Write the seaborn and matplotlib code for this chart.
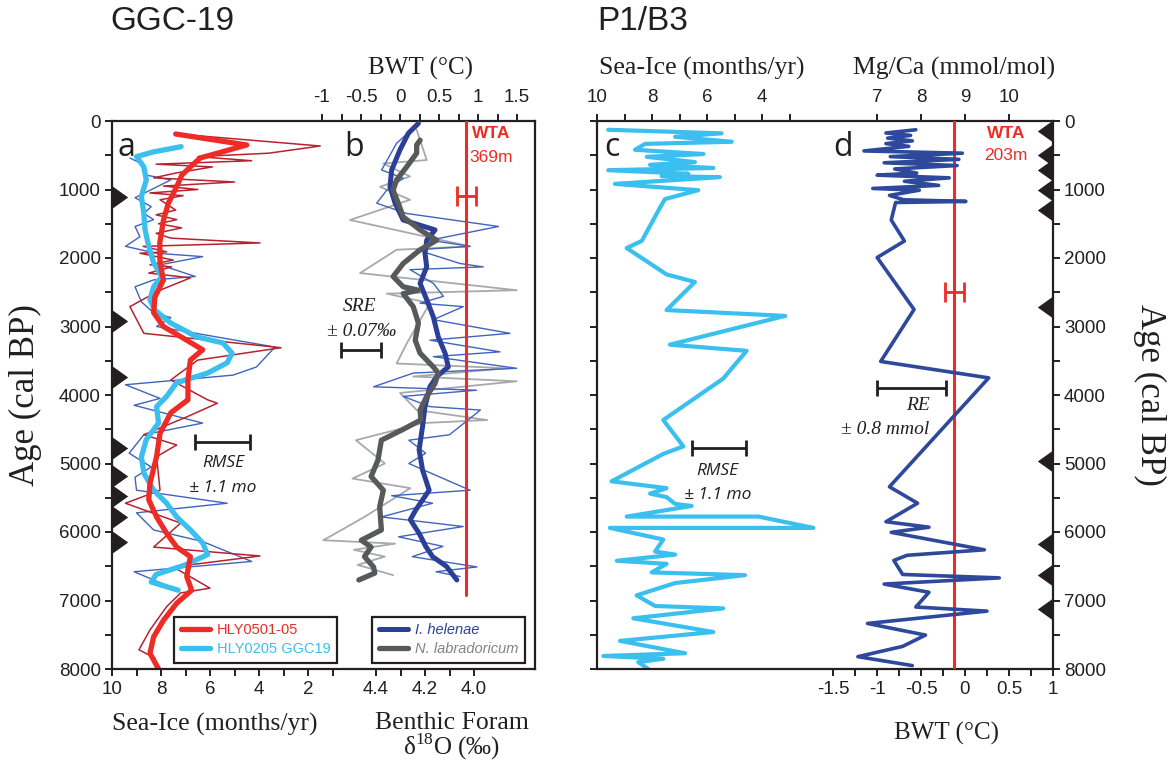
import numpy as np
import pandas as pd
import seaborn as sns
import matplotlib.pyplot as plt
from matplotlib.ticker import FixedLocator

# ---- data (age in cal BP) ----
# panel a: sea-ice (months/yr)
hly05_smooth_age = [190, 350, 540, 670, 790, 960, 1200, 1450, 1780, 2070, 2320, 2570, 2800, 3000, 3200,
                    3340, 3490, 3780, 4070, 4260, 4560, 4900, 5290, 5530, 5780, 6020, 6220, 6360, 6650,
                    6850, 7040, 7290, 7530, 7770, 8000]
hly05_smooth_si = [7.4, 4.5, 6.4, 6.8, 7.15, 7.36, 7.7, 7.9, 8.05, 8.04, 7.9, 8.25, 8.3, 7.9, 6.95,
                   6.3, 6.8, 6.9, 6.9, 7.6, 8.04, 8.18, 8.45, 8.5, 8.18, 7.77, 7.36, 6.8, 6.95,
                   6.75, 7.36, 7.9, 8.3, 8.45, 8.1]
hly05_raw_age = [200, 365, 470, 520, 580, 630, 670, 760, 830, 890, 950, 1000, 1050, 1090, 1150, 1300,
                 1370, 1440, 1500, 1560, 1640, 1710, 1780, 1830, 1910, 1930, 2030, 2100, 2130, 2220,
                 2290, 2470, 2710, 3100, 3310, 3490, 3780, 4070, 4120, 4320, 4580, 4730, 4900, 5390,
                 5580, 5870, 6220, 6350, 6510, 6820, 6890, 7090, 7430, 7720, 7840, 8000]
hly05_raw_si = [7.0, 1.5, 3.6, 6.5, 4.3, 8.2, 5.9, 7.4, 8.3, 5.0, 7.9, 6.5, 8.45, 7.1, 8.04, 7.4,
                8.2, 7.36, 8.1, 7.16, 8.2, 7.6, 3.96, 8.73, 7.77, 8.86, 7.5, 8.45, 7.57, 8.5,
                6.8, 8.04, 9.27, 8.7, 3.1, 6.5, 7.6, 6.1, 5.7, 6.95, 8.7, 7.36, 8.18, 8.04,
                9.45, 7.2, 8.3, 3.96, 7.5, 6.0, 7.2, 7.77, 8.45, 8.9, 8.25, 8.2]
ggc19_smooth_age = [375, 450, 520, 670, 860, 1100, 1350, 1590, 1830, 2070, 2270, 2420, 2610, 2760, 2950,
                    3150, 3240, 3390, 3530, 3680, 3820, 4020, 4170, 4410, 4650, 4900, 5140, 5390, 5580,
                    5780, 5970, 6160, 6330, 6480, 6620, 6730, 6850]
ggc19_smooth_si = [7.18, 8.3, 9.0, 8.7, 8.6, 8.8, 8.7, 8.65, 8.5, 8.3, 7.97, 8.3, 8.45, 8.25, 7.6,
                   6.55, 5.47, 5.1, 5.3, 6.1, 7.36, 7.77, 8.18, 8.1, 8.6, 8.8, 8.7, 8.3, 7.77,
                   7.36, 6.8, 6.3, 6.1, 7.0, 8.2, 8.4, 7.3]
ggc19_raw_age = [540, 640, 790, 860, 1120, 1250, 1350, 1440, 1540, 1690, 1830, 1930, 1980, 2100, 2270,
                 2320, 2420, 2640, 2800, 2870, 3000, 3300, 3590, 3710, 3850, 4050, 4150, 4410, 4580,
                 4850, 5050, 5200, 5390, 5580, 5720, 5970, 6140, 6430, 6580, 6700, 6850]
ggc19_raw_si = [9.27, 8.7, 8.6, 7.6, 9.06, 8.4, 8.7, 8.3, 9.06, 8.86, 9.45, 8.2, 6.3, 8.04, 6.6,
                8.3, 9.06, 8.8, 8.3, 7.6, 8.18, 3.35, 4.1, 5.06, 9.45, 8.04, 9.1, 6.3, 8.7,
                9.3, 8.4, 9.06, 9.0, 5.3, 9.0, 8.3, 6.3, 4.3, 9.1, 8.3, 7.3]

# panel b: benthic foram d18O (permil)
helenae_smooth_age = [35, 180, 420, 715, 960, 1200, 1445, 1590, 1740, 1930, 2130, 2370, 2610, 2860, 3150,
                      3390, 3590, 3730, 3880, 4170, 4460, 4800, 5095, 5390, 5680, 5820, 6020, 6210, 6360,
                      6500, 6700]
helenae_smooth_d18o = [4.227, 4.268, 4.302, 4.336, 4.343, 4.322, 4.289, 4.159, 4.193, 4.2, 4.193, 4.22,
                       4.193, 4.166, 4.146, 4.118, 4.105, 4.152, 4.18, 4.2, 4.21, 4.224, 4.21, 4.183,
                       4.238, 4.26, 4.224, 4.197, 4.169, 4.113, 4.07]
helenae_raw_age = [60, 325, 715, 835, 1010, 1200, 1350, 1540, 1740, 1830, 1880, 2080, 2130, 2170, 2370,
                   2560, 2660, 2710, 2900, 3100, 3200, 3370, 3440, 3610, 3680, 3880, 3930, 4020, 4170,
                   4220, 4580, 4660, 4850, 5000, 5390, 5470, 5580, 5780, 5920, 6070, 6210, 6360, 6510,
                   6580, 6650]
helenae_raw_d18o = [4.234, 4.316, 4.377, 4.289, 4.356, 4.397, 4.275, 3.9, 4.18, 4.016, 4.234, 4.057,
                    3.962, 4.261, 4.166, 4.125, 4.22, 4.044, 4.166, 3.853, 4.18, 3.894, 4.166, 3.826,
                    4.248, 4.41, 3.99, 4.289, 4.18, 3.974, 4.1, 4.266, 4.197, 4.266, 4.016, 4.336,
                    4.169, 4.378, 4.044, 4.308, 4.127, 4.252, 3.988, 4.155, 4.057]
labrad_smooth_age = [280, 350, 470, 670, 860, 1010, 1200, 1400, 1590, 1740, 1880, 2080, 2270, 2420, 2470,
                     2520, 2710, 2950, 3200, 3390, 3590, 3680, 3830, 4020, 4220, 4365, 4510, 4660, 4950,
                     5190, 5390, 5630, 5970, 6120, 6220, 6360, 6510, 6600, 6700]
labrad_smooth_d18o = [4.22, 4.234, 4.234, 4.275, 4.316, 4.33, 4.309, 4.289, 4.22, 4.152, 4.22, 4.289,
                      4.33, 4.289, 4.227, 4.289, 4.248, 4.227, 4.24, 4.22, 4.166, 4.146, 4.159, 4.193,
                      4.22, 4.217, 4.294, 4.378, 4.392, 4.42, 4.37, 4.385, 4.378, 4.46, 4.42, 4.447,
                      4.41, 4.405, 4.47]
labrad_raw_age = [130, 570, 620, 810, 960, 1150, 1445, 1830, 1880, 2220, 2470, 2520, 2660, 3250, 3540,
                  3610, 3730, 3800, 3970, 4220, 4365, 4410, 4660, 5000, 5220, 5360, 5780, 6120, 6170,
                  6260, 6360, 6480, 6630]
labrad_raw_d18o = [4.234, 4.193, 4.37, 4.261, 4.384, 4.261, 4.506, 4.016, 4.316, 4.465, 3.826, 4.356,
                   4.18, 4.275, 4.316, 3.866, 4.248, 3.826, 4.302, 4.234, 3.946, 4.21, 4.482, 4.364,
                   4.496, 4.26, 4.447, 4.615, 4.322, 4.49, 4.364, 4.475, 4.33]

# panel c: P1/B3 sea-ice (months/yr)
p1_age = [128, 180, 230, 303, 334, 420, 482, 523, 600, 640, 686, 718, 770, 804, 820, 918, 1010, 1140,
          1266, 1750, 1855, 2240, 2350, 2760, 2845, 3265, 3355, 3760, 4365, 4750, 4860, 5260, 5360,
          5440, 5490, 5590, 5620, 5775, 5775, 5940, 5940, 6110, 6285, 6330, 6420, 6465, 6590, 6630,
          6745, 6925, 7080, 7115, 7260, 7460, 7590, 7770, 7810, 7850, 7900, 8000]
p1_si = [9.59, 5.47, 7.16, 5.1, 8.25, 8.62, 6.13, 8.19, 6.44, 8.07, 5.77, 9.59, 6.68, 7.65, 5.53, 9.35,
         6.32, 7.53, 7.71, 8.37, 8.92, 7.47, 6.44, 7.47, 3.16, 7.35, 4.56, 5.41, 7.59, 6.86, 7.59, 9.47,
         7.47, 8.07, 7.47, 7.16, 6.56, 8.92, 4.13, 2.13, 9.53, 7.59, 7.89, 7.16, 9.28, 7.47, 8.01, 4.62,
         7.16, 8.56, 7.89, 5.41, 8.68, 5.77, 9.16, 6.8, 9.77, 7.59, 8.5, 8.13]

# panel d: P1/B3 bottom water temperature (deg C)
p1_bwt_age = [128, 175, 210, 250, 290, 330, 370, 437, 470, 520, 560, 610, 650, 700, 760, 790, 830, 880,
              940, 985, 1010, 1086, 1150, 1174, 1190, 1445, 1752, 1993, 2752, 3510, 3750, 5340, 5580,
              5850, 5930, 6005, 6260, 6340, 6415, 6620, 6670, 6760, 6880, 7095, 7155, 7335, 7505, 7670,
              7820, 7950]
p1_bwt = [-0.56, -0.90, -0.62, -0.88, -0.60, -0.90, -0.64, -1.15, -0.03, -0.85, -0.07, -0.92, -0.09,
          -0.80, -0.55, -1.0, -0.18, -0.69, -0.30, -1.05, -0.52, -0.86, -0.70, 0.01, -0.79, -0.84,
          -0.69, -1.0, -0.58, -0.96, 0.27, -0.86, -0.54, -0.90, -0.41, -0.84, 0.22, -0.66, -0.81,
          -0.71, 0.39, -0.92, -0.41, -0.56, 0.25, -1.11, -0.45, -0.71, -1.22, -0.60]

# age control points (triangles)
ggc19_dates = [1114, 2920, 3730, 4780, 5180, 5480, 5780, 6140]
p1_dates = [140, 500, 720, 1000, 1295, 2710, 4960, 6170, 6625, 7130]

# modern water temperature (WTA) and error bars
wta_369_bwt, wta_369_err, wta_369_age, wta_369_end = 0.85, 0.12, 1100, 6920
wta_203_bwt, wta_203_err, wta_203_age = -0.12, 0.11, 2500
rmse_a = (5.49, 1.12, 4680)
sre_b = (4.462, 0.082, 3340)
rmse_c = (5.57, 0.98, 4770)
re_d = (-0.61, 0.39, 3900)

RED = '#EE2B24'
DARKRED = '#B52330'
CYAN = '#3BBFEE'
BLUE_THIN = '#3F64BE'
NAVY = '#2B3F98'
DGREY = '#58595B'
LGREY = '#A7A9AC'
DBLUE = '#2E489C'
INK = '#231F20'

sns.set_theme(style="ticks")
plt.rcParams['font.family'] = ['Liberation Sans', 'DejaVu Sans']
plt.rcParams['mathtext.fontset'] = 'custom'
plt.rcParams['mathtext.rm'] = 'Liberation Serif'
plt.rcParams['axes.edgecolor'] = INK
plt.rcParams['text.color'] = INK
plt.rcParams['xtick.color'] = INK
plt.rcParams['ytick.color'] = INK
plt.rcParams['xtick.labelsize'] = 13.5
plt.rcParams['ytick.labelsize'] = 13.5

SERIF = ['Liberation Serif', 'DejaVu Serif']
SANS2 = ['Open Sans', 'DejaVu Sans']
W, H = 1168, 766
fig = plt.figure(figsize=(W / 100, H / 100), dpi=100)


def rect(x0, x1, y0=121, y1=669):
    return [x0 / W, 1 - y1 / H, (x1 - x0) / W, (y1 - y0) / H]


def ftxt(px, py, s, **kw):
    kw.setdefault('ha', 'center')
    kw.setdefault('va', 'center')
    fig.text(px / W, 1 - py / H, s, **kw)


def overlay(r):
    ax = fig.add_axes(r)
    ax.patch.set_visible(False)
    for s in ax.spines.values():
        s.set_visible(False)
    ax.tick_params(left=False, labelleft=False, right=False, labelright=False)
    ax.set_ylim(8000, 0)
    return ax


def style_ticks(ax, axis='both'):
    ax.tick_params(axis=axis, which='both', direction='out', length=5, width=1.4, colors=INK)


def line(ax, x, y, color, lw, label=None):
    sns.lineplot(x=x, y=y, sort=False, estimator=None, color=color, linewidth=lw,
                 ax=ax, label=label, legend=False)


def hbar(ax, spec, color, cap):
    ax.errorbar(x=spec[0], y=spec[2], xerr=spec[1], color=color, lw=2, capsize=cap, capthick=2)


def legend(ax, handles, labels, px, colors):
    leg = ax.legend(handles, labels, loc='lower left', bbox_to_anchor=(px / W, 1 - 663 / H),
                    bbox_transform=fig.transFigure, fontsize=10.5, frameon=True, fancybox=False,
                    edgecolor=INK, handlelength=2.0, handletextpad=0.5, borderpad=0.45,
                    labelspacing=0.35, borderaxespad=0)
    leg.get_frame().set_linewidth(1.6)
    leg.get_frame().set_alpha(1)
    for t, c in zip(leg.get_texts(), colors):
        t.set_color(c)
    return leg


tri_right = [(0.7, 0), (-0.7, -1), (-0.7, 1)]
tri_left = [(-0.7, 0), (0.7, -1), (0.7, 1)]

# ---------------- left frame: GGC-19 ----------------
axA = fig.add_axes(rect(112, 535))
for s in axA.spines.values():
    s.set_linewidth(1.6)
axA.set_xlim(10, 10 - 423 / 24.5)
axA.set_ylim(8000, 0)
line(axA, ggc19_raw_si, ggc19_raw_age, BLUE_THIN, 1.0)
line(axA, hly05_raw_si, hly05_raw_age, DARKRED, 1.1)
line(axA, ggc19_smooth_si, ggc19_smooth_age, CYAN, 3.8, 'HLY0205 GGC19')
line(axA, hly05_smooth_si, hly05_smooth_age, RED, 3.8, 'HLY0501-05')
hbar(axA, rmse_a, INK, 6)
sns.scatterplot(x=[8 / 423] * len(ggc19_dates), y=ggc19_dates, marker=tri_right, s=250,
                color=INK, linewidth=0, ax=axA, transform=axA.get_yaxis_transform(), clip_on=False)
axA.set_xlim(10, 10 - 423 / 24.5)
axA.set_ylim(8000, 0)
axA.xaxis.set_major_locator(FixedLocator([10, 8, 6, 4, 2]))
axA.xaxis.set_minor_locator(FixedLocator([9, 7, 5, 3, 1]))
axA.yaxis.set_major_locator(FixedLocator(range(0, 8001, 1000)))
axA.yaxis.set_minor_locator(FixedLocator(range(500, 8000, 1000)))
axA.set_xlabel('')
axA.set_ylabel('')
style_ticks(axA)
axA.tick_params(axis='x', pad=4)
axA.tick_params(axis='y', pad=3)
hA, lA = axA.get_legend_handles_labels()
legend(axA, hA[::-1], lA[::-1], 174, [RED, CYAN])

axB = overlay(rect(112, 535))
axB.set_xlim(4.4 + 264 / 245, 4.4 - 159 / 245)
line(axB, labrad_raw_d18o, labrad_raw_age, LGREY, 1.3)
line(axB, helenae_raw_d18o, helenae_raw_age, BLUE_THIN, 1.0)
line(axB, helenae_smooth_d18o, helenae_smooth_age, NAVY, 3.6, 'I. helenae')
line(axB, labrad_smooth_d18o, labrad_smooth_age, DGREY, 3.8, 'N. labradoricum')
hbar(axB, sre_b, INK, 6)
axB.set_xlim(4.4 + 264 / 245, 4.4 - 159 / 245)
axB.set_ylim(8000, 0)
axB.xaxis.set_major_locator(FixedLocator([4.4, 4.2, 4.0]))
axB.xaxis.set_minor_locator(FixedLocator([4.3, 4.1]))
axB.xaxis.set_major_formatter(lambda v, p: f'{v:.1f}')
axB.set_xlabel('')
axB.set_ylabel('')
style_ticks(axB, 'x')
axB.tick_params(axis='x', pad=4)
hB, lB = axB.get_legend_handles_labels()
legB = legend(axB, hB, lB, 372, [NAVY, '#808285'])
for t in legB.get_texts():
    t.set_style('italic')

axT = overlay(rect(112, 535))
axT.set_xlim(-288 / 78, 135 / 78)
line(axT, [wta_369_bwt, wta_369_bwt], [0, wta_369_end], RED, 2.2)
hbar(axT, (wta_369_bwt, wta_369_err, wta_369_age), RED, 7)
axT.set_xlim(-288 / 78, 135 / 78)
axT.set_ylim(8000, 0)
axT.xaxis.tick_top()
axT.xaxis.set_major_locator(FixedLocator([-1, -0.5, 0, 0.5, 1, 1.5]))
axT.xaxis.set_minor_locator(FixedLocator([-0.75, -0.25, 0.25, 0.75, 1.25]))
axT.xaxis.set_major_formatter(lambda v, p: f'{v:g}')
axT.set_xlabel('')
axT.set_ylabel('')
style_ticks(axT, 'x')
axT.tick_params(axis='x', bottom=False, labelbottom=False, top=True, labeltop=True, pad=6)
axT.tick_params(axis='x', which='minor', bottom=False, top=True)

# ---------------- right frame: P1/B3 ----------------
axC = fig.add_axes(rect(597, 1053))
for s in axC.spines.values():
    s.set_linewidth(1.6)
axC.set_xlim(10, 10 - 456 / 27.5)
line(axC, p1_si, p1_age, CYAN, 3.0)
hbar(axC, rmse_c, INK, 6)
axC.set_xlim(10, 10 - 456 / 27.5)
axC.set_ylim(8000, 0)
axC.xaxis.tick_top()
axC.xaxis.set_major_locator(FixedLocator([10, 8, 6, 4]))
axC.xaxis.set_minor_locator(FixedLocator([9, 7, 5, 3]))
axC.yaxis.set_major_locator(FixedLocator(range(0, 8001, 1000)))
axC.yaxis.set_minor_locator(FixedLocator(range(500, 8000, 1000)))
axC.set_xlabel('')
axC.set_ylabel('')
style_ticks(axC)
axC.tick_params(axis='x', which='both', bottom=False, labelbottom=False, top=True, labeltop=True)
axC.tick_params(axis='x', pad=6)
axC.tick_params(axis='y', which='both', left=True, labelleft=False, right=False)

BWT_LIM = (-4.19, 1.002)
axD = overlay(rect(597, 1053))
axD.set_xlim(*BWT_LIM)
line(axD, [wta_203_bwt, wta_203_bwt], [0, 8000], RED, 2.2)
line(axD, p1_bwt, p1_bwt_age, DBLUE, 2.6)
hbar(axD, (wta_203_bwt, wta_203_err, wta_203_age), RED, 7)
hbar(axD, re_d, INK, 6)
sns.scatterplot(x=[1 - 8 / 456] * len(p1_dates), y=p1_dates, marker=tri_left, s=250,
                color=INK, linewidth=0, ax=axD, transform=axD.get_yaxis_transform(), clip_on=False)
axD.set_xlim(*BWT_LIM)
axD.set_ylim(8000, 0)
axD.xaxis.set_major_locator(FixedLocator([-1.5, -1, -0.5, 0, 0.5, 1]))
axD.xaxis.set_minor_locator(FixedLocator([-1.25, -0.75, -0.25, 0.25, 0.75]))
axD.xaxis.set_major_formatter(lambda v, p: f'{v:g}')
axD.yaxis.tick_right()
axD.yaxis.set_major_locator(FixedLocator(range(0, 8001, 1000)))
axD.yaxis.set_minor_locator(FixedLocator(range(500, 8000, 1000)))
axD.set_xlabel('')
axD.set_ylabel('')
style_ticks(axD)
axD.tick_params(axis='y', which='both', right=True, labelright=True, left=False, labelleft=False, pad=3)
axD.tick_params(axis='x', which='both', top=False, labeltop=False, pad=4)

mgca = axD.secondary_xaxis('top', functions=(lambda b: 9 + 2 * b, lambda m: (m - 9) / 2))
mgca.set_xticks([7, 8, 9, 10])
mgca.spines['top'].set_visible(False)
mgca.tick_params(axis='x', direction='out', length=5, width=1.4, pad=6, labelsize=13.5)

# ---------------- text ----------------
ftxt(110, 22, 'GGC-19', fontsize=24, ha='left')
ftxt(597, 22, 'P1/B3', fontsize=24, ha='left')
ftxt(420, 68, 'BWT (°C)', fontsize=18, family=SERIF)
ftxt(702, 68, 'Sea-Ice (months/yr)', fontsize=18.5, family=SERIF)
ftxt(954, 68, 'Mg/Ca (mmol/mol)', fontsize=18.5, family=SERIF)
ftxt(215, 724, 'Sea-Ice (months/yr)', fontsize=18.5, family=SERIF)
ftxt(452, 723, 'Benthic Foram', fontsize=18.5, family=SERIF)
ftxt(452, 747, 'δ$^{18}$O (‰)', fontsize=18, family=SERIF)
ftxt(947, 733, 'BWT (°C)', fontsize=18, family=SERIF)
ftxt(25, 395, 'Age (cal BP)', fontsize=25, family=SERIF, rotation=90)
ftxt(1150, 395, 'Age (cal BP)', fontsize=25, family=SERIF, rotation=270)

for px, py, s in [(126, 147, 'a'), (354, 147, 'b'), (612, 147, 'c'), (843, 147, 'd')]:
    ftxt(px, py, s, fontsize=23, family=SANS2)
ftxt(491, 134, 'WTA', fontsize=12.5, color=RED, fontweight='bold')
ftxt(491, 157, '369m', fontsize=12.5, color=RED)
ftxt(1006, 134, 'WTA', fontsize=12.5, color=RED, fontweight='bold')
ftxt(1006, 156, '203m', fontsize=12.5, color=RED)

ftxt(223, 463, 'RMSE', fontsize=12.5, style='italic', family=SANS2)
ftxt(223, 488, '± 1.1 mo', fontsize=12.5, style='italic', family=SANS2)
ftxt(717, 471, 'RMSE', fontsize=12.5, style='italic', family=SANS2)
ftxt(718, 495, '± 1.1 mo', fontsize=12.5, style='italic', family=SANS2)
ftxt(360, 307, 'SRE', fontsize=14, style='italic', family=SERIF)
ftxt(362, 332, '± 0.07‰', fontsize=14, style='italic', family=SERIF)
ftxt(918, 406, 'RE', fontsize=14, style='italic', family=SERIF)
ftxt(885, 430, '± 0.8 mmol', fontsize=14, style='italic', family=SERIF)

fig.savefig('out.png', dpi=100)
